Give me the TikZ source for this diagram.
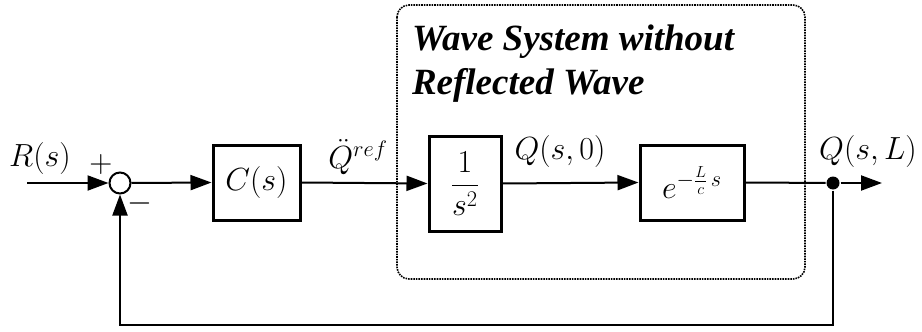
\RequirePackage{fix-cm}
\documentclass[tikz,border=0pt]{standalone}
\usepackage{amsmath,amssymb}
\usepackage{fontspec}
\usepackage{tikz}
\usetikzlibrary{arrows.meta,positioning}
\newfontfamily\titlefont{Liberation Serif}

\begin{document}
\begin{tikzpicture}[x=1pt, y=-1pt, line width=2pt,
  every node/.style={font=\fontsize{32}{38}\selectfont},
  blk/.style={draw, line width=3pt, inner sep=0pt},
  sig/.style={-{Triangle[length=21pt,width=15pt]}}]
  \useasboundingbox (0,0) rectangle (922,332);
  % wave system frame
  \draw[densely dotted, line width=1.6pt, rounded corners=12pt] (397,5) rectangle (805,279);
  \node[anchor=base west, align=left, inner sep=0pt, font=\titlefont\bfseries\itshape\fontsize{37}{44}\selectfont] (ttl) at (411,94) {Wave System without\\Reflected Wave};
  % loop
  \coordinate (in) at (27,183);
  \node[draw, circle, minimum size=21pt, inner sep=0pt, line width=2pt] (sum) at (120,183) {};
  \node[blk, minimum width=87pt, minimum height=75pt] (c) at (256.5,182.5) {$C(s)$};
  \node[blk, minimum width=72pt, minimum height=95pt] (g) at (465,183.5) {$\dfrac{1}{s^2}$};
  \node[blk, minimum width=104pt, minimum height=75pt] (d) at (692,182.5) {$e^{-\frac{L}{c}\,s}$};
  \node[circle, fill, minimum size=13pt, inner sep=0pt] (tap) at (833,183) {};
  \coordinate (out) at (882,183);
  \coordinate (fb) at (833,325);
  \node (r) at (40,158) {$R(s)$};
  \node (plus) at (101,164) {$+$};
  \node (minus) at (140,203) {$-$};
  \node (qr) at (358,157) {$\ddot{Q}^{ref}$};
  \node (q0) at (560,152) {$Q(s,0)$};
  \node (ql) at (868,152) {$Q(s,L)$};
  \draw[sig] (in) -- (sum.west);
  \draw[sig] (sum.east) -- (c.west);
  \draw[sig] (c.east) -- (g.west);
  \draw[sig] (g.east) -- (d.west);
  \draw (d.east) -- (tap);
  \draw[sig] (tap) -- (out);
  \draw[sig] (tap) -- (fb) -| (sum.south);
\end{tikzpicture}
\end{document}
